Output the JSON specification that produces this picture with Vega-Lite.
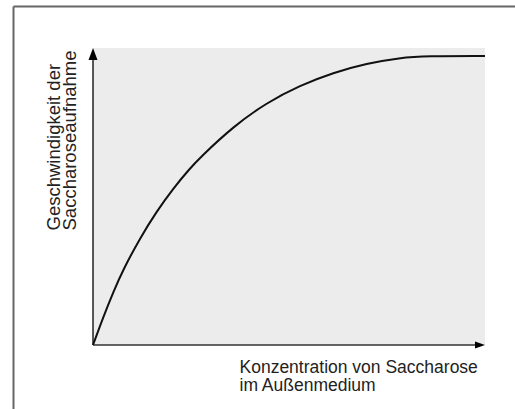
{
  "$schema": "https://vega.github.io/schema/vega-lite/v6.json",
  "width": 502,
  "height": 403,
  "autosize": "none",
  "padding": {"left": 13, "top": 6, "right": 0, "bottom": 0},
  "background": "#ffffff",
  "config": {
    "view": {"stroke": null},
    "font": "Liberation Sans",
    "axis": {
      "domainColor": "#666666",
      "domainWidth": 2,
      "ticks": false,
      "labels": false,
      "grid": false,
      "titleFont": "Liberation Sans",
      "titleFontSize": 17.5,
      "titleFontWeight": "normal",
      "titleColor": "#222222"
    }
  },
  "datasets": {
    "curve": [
      {"konzentration": 0, "geschwindigkeit": 0},
      {"konzentration": 2.6, "geschwindigkeit": 9.4},
      {"konzentration": 5.2, "geschwindigkeit": 17.9},
      {"konzentration": 7.7, "geschwindigkeit": 25.4},
      {"konzentration": 12.0, "geschwindigkeit": 36.0},
      {"konzentration": 16.2, "geschwindigkeit": 44.9},
      {"konzentration": 20.5, "geschwindigkeit": 52.8},
      {"konzentration": 24.7, "geschwindigkeit": 59.4},
      {"konzentration": 27.3, "geschwindigkeit": 63.1},
      {"konzentration": 35.8, "geschwindigkeit": 73.6},
      {"konzentration": 44.3, "geschwindigkeit": 81.6},
      {"konzentration": 52.8, "geschwindigkeit": 87.4},
      {"konzentration": 61.3, "geschwindigkeit": 91.7},
      {"konzentration": 69.8, "geschwindigkeit": 94.8},
      {"konzentration": 78.3, "geschwindigkeit": 96.7},
      {"konzentration": 85.0, "geschwindigkeit": 97.3},
      {"konzentration": 100, "geschwindigkeit": 97.3}
    ],
    "one": [{}]
  },
  "encoding": {
    "x": {
      "type": "quantitative",
      "scale": {"domain": [-20.41, 107.65], "nice": false, "zero": false},
      "axis": {
        "orient": "top",
        "title": ["Konzentration von Saccharose", "im Außenmedium"],
        "titleAngle": 0,
        "titleAlign": "left",
        "titleBaseline": "alphabetic",
        "titleX": 226,
        "titleY": 366,
        "titleLineHeight": 18
      }
    },
    "y": {
      "type": "quantitative",
      "scale": {"domain": [-21.55, 114.14], "nice": false, "zero": false},
      "axis": {
        "orient": "left",
        "title": ["Geschwindigkeit der", "Saccharoseaufnahme"],
        "titleAngle": -90,
        "titleAlign": "left",
        "titleBaseline": "alphabetic",
        "titleFontSize": 18.5,
        "titleX": 46,
        "titleY": 224,
        "titleLineHeight": 16
      }
    }
  },
  "layer": [
    {
      "data": {"name": "one"},
      "mark": {"type": "rect", "color": "#ececec"},
      "encoding": {
        "x": {"datum": 0},
        "x2": {"datum": 100},
        "y": {"datum": 0},
        "y2": {"datum": 100}
      }
    },
    {
      "data": {"name": "one"},
      "mark": {"type": "rule", "color": "#222222", "strokeWidth": 1.5},
      "encoding": {
        "x": {"datum": 0},
        "y": {"datum": 0},
        "y2": {"datum": 97}
      }
    },
    {
      "data": {"name": "one"},
      "mark": {"type": "rule", "color": "#333333", "strokeWidth": 1.7},
      "encoding": {
        "y": {"datum": 0},
        "x": {"datum": 0},
        "x2": {"datum": 98}
      }
    },
    {
      "data": {"name": "curve"},
      "mark": {"type": "line", "color": "#111111", "strokeWidth": 2, "interpolate": "basis"},
      "encoding": {
        "x": {"field": "konzentration"},
        "y": {"field": "geschwindigkeit"}
      }
    },
    {
      "data": {"name": "one"},
      "mark": {"type": "point", "shape": "M0,0L0.75,2L-0.75,2Z", "size": 144, "filled": true, "color": "#000000", "opacity": 1},
      "encoding": {
        "x": {"datum": 0},
        "y": {"datum": 100}
      }
    },
    {
      "data": {"name": "one"},
      "mark": {"type": "point", "shape": "M0,0L-2,-0.7L-2,0.7Z", "size": 100, "filled": true, "color": "#000000", "opacity": 1},
      "encoding": {
        "x": {"datum": 100},
        "y": {"datum": 0}
      }
    }
  ]
}
